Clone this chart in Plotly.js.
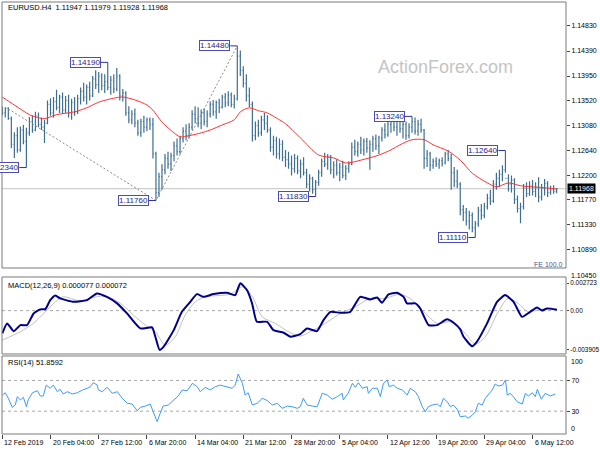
<!DOCTYPE html>
<html><head><meta charset="utf-8">
<script src="https://cdn.plot.ly/plotly-3.0.1.min.js"></script>
<style>html,body{margin:0;padding:0;background:#fff}#chart{width:600px;height:450px}</style>
</head><body><div id="chart"></div>
<script>
// ---- price bars (each bar = 8 hours, H4 pairs) ----
const opens = [1.1335,1.1330,1.1338,1.1320,1.1275,1.1290,1.1265,1.1300,1.1280,1.1295,
1.1315,1.1300,1.1325,1.1310,1.1305,1.1312,1.1345,1.1330,1.1350,1.1340,
1.1358,1.1335,1.1352,1.1330,1.1348,1.1332,1.1355,1.1368,1.1358,1.1375,
1.1360,1.1390,1.1380,1.1395,1.1378,1.1385,1.1375,1.1388,1.1372,1.1395,
1.1360,1.1365,1.1330,1.1318,1.1328,1.1312,1.1295,1.1315,1.1305,1.1318,
1.1310,1.1258,1.1190,1.1218,1.1230,1.1250,1.1240,1.1255,1.1272,1.1262,
1.1285,1.1298,1.1290,1.1305,1.1328,1.1320,1.1312,1.1330,1.1315,1.1328,
1.1345,1.1332,1.1348,1.1340,1.1358,1.1348,1.1362,1.1345,1.1355,1.1430,
1.1405,1.1382,1.1360,1.1345,1.1290,1.1308,1.1295,1.1318,1.1312,1.1300,
1.1270,1.1282,1.1258,1.1275,1.1252,1.1248,1.1240,1.1232,1.1250,1.1228,
1.1240,1.1225,1.1205,1.1215,1.1195,1.1208,1.1225,1.1245,1.1240,1.1252,
1.1230,1.1238,1.1225,1.1235,1.1220,1.1232,1.1240,1.1270,1.1262,1.1275,
1.1265,1.1280,1.1268,1.1275,1.1285,1.1272,1.1286,1.1300,1.1292,1.1310,
1.1318,1.1305,1.1315,1.1302,1.1310,1.1290,1.1305,1.1315,1.1298,1.1310,
1.1300,1.1250,1.1258,1.1238,1.1245,1.1240,1.1246,1.1242,1.1258,1.1250,
1.1225,1.1210,1.1205,1.1160,1.1155,1.1140,1.1150,1.1128,1.1135,1.1158,
1.1150,1.1165,1.1180,1.1175,1.1205,1.1215,1.1222,1.1230,1.1215,1.1205,
1.1212,1.1178,1.1162,1.1165,1.1198,1.1188,1.1202,1.1192,1.1200,1.1182,
1.1198,1.1206,1.1190,1.1197,1.1192];
const highs = [1.1341,1.1340,1.1340,1.1324,1.1296,1.1305,1.1306,1.1309,1.1304,1.1323,
1.1326,1.1332,1.1331,1.1322,1.1318,1.1352,1.1356,1.1358,1.1371,1.1362,
1.1366,1.1360,1.1362,1.1355,1.1358,1.1362,1.1375,1.1383,1.1380,1.1385,
1.1395,1.1405,1.1402,1.1400,1.1398,1.1419,1.1395,1.1398,1.1409,1.1398,
1.1372,1.1368,1.1342,1.1335,1.1338,1.1318,1.1320,1.1325,1.1322,1.1322,
1.1321,1.1262,1.1225,1.1240,1.1258,1.1262,1.1260,1.1280,1.1285,1.1290,
1.1305,1.1310,1.1312,1.1335,1.1342,1.1340,1.1336,1.1338,1.1335,1.1350,
1.1353,1.1352,1.1355,1.1362,1.1365,1.1368,1.1366,1.1362,1.1448,1.1440,
1.1412,1.1398,1.1375,1.1350,1.1315,1.1318,1.1325,1.1330,1.1326,1.1305,
1.1290,1.1288,1.1285,1.1282,1.1265,1.1262,1.1255,1.1258,1.1255,1.1248,
1.1252,1.1232,1.1222,1.1218,1.1212,1.1230,1.1250,1.1260,1.1258,1.1256,
1.1245,1.1248,1.1242,1.1246,1.1238,1.1245,1.1278,1.1283,1.1280,1.1288,
1.1285,1.1286,1.1282,1.1290,1.1292,1.1290,1.1305,1.1312,1.1318,1.1322,
1.1323,1.1320,1.1322,1.1318,1.1315,1.1312,1.1324,1.1322,1.1318,1.1320,
1.1302,1.1265,1.1262,1.1250,1.1252,1.1250,1.1252,1.1262,1.1265,1.1258,
1.1235,1.1230,1.1208,1.1168,1.1163,1.1158,1.1155,1.1140,1.1165,1.1170,
1.1172,1.1188,1.1195,1.1212,1.1225,1.1230,1.1238,1.1264,1.1222,1.1220,
1.1215,1.1185,1.1172,1.1205,1.1208,1.1210,1.1212,1.1208,1.1217,1.1205,
1.1214,1.1210,1.1202,1.1203,1.1198];
const lows = [1.1326,1.1322,1.1318,1.1268,1.1251,1.1260,1.1262,1.1275,1.1234,1.1290,
1.1295,1.1298,1.1305,1.1300,1.1277,1.1310,1.1325,1.1322,1.1335,1.1330,
1.1328,1.1330,1.1322,1.1318,1.1325,1.1328,1.1345,1.1350,1.1345,1.1352,
1.1358,1.1372,1.1365,1.1370,1.1365,1.1370,1.1362,1.1365,1.1368,1.1352,
1.1350,1.1325,1.1312,1.1310,1.1305,1.1290,1.1288,1.1295,1.1298,1.1300,
1.1250,1.1176,1.1182,1.1195,1.1222,1.1232,1.1228,1.1245,1.1255,1.1258,
1.1278,1.1282,1.1285,1.1300,1.1312,1.1305,1.1302,1.1308,1.1305,1.1322,
1.1325,1.1320,1.1330,1.1338,1.1340,1.1342,1.1340,1.1338,1.1352,1.1395,
1.1375,1.1350,1.1340,1.1280,1.1282,1.1288,1.1290,1.1300,1.1295,1.1262,
1.1255,1.1250,1.1248,1.1245,1.1235,1.1232,1.1220,1.1225,1.1222,1.1215,
1.1220,1.1198,1.1192,1.1188,1.1183,1.1202,1.1218,1.1235,1.1230,1.1222,
1.1215,1.1220,1.1210,1.1215,1.1212,1.1225,1.1238,1.1255,1.1253,1.1258,
1.1255,1.1260,1.1230,1.1262,1.1265,1.1258,1.1280,1.1285,1.1288,1.1295,
1.1298,1.1290,1.1295,1.1285,1.1283,1.1285,1.1295,1.1292,1.1290,1.1295,
1.1232,1.1235,1.1228,1.1232,1.1235,1.1232,1.1236,1.1240,1.1245,1.1195,
1.1200,1.1198,1.1150,1.1140,1.1132,1.1125,1.1120,1.1111,1.1130,1.1142,
1.1145,1.1160,1.1168,1.1172,1.1195,1.1200,1.1210,1.1225,1.1192,1.1190,
1.1170,1.1155,1.1136,1.1160,1.1182,1.1184,1.1185,1.1182,1.1173,1.1176,
1.1185,1.1182,1.1186,1.1188,1.1189];
const closes = [1.1330,1.1338,1.1320,1.1275,1.1290,1.1265,1.1300,1.1280,1.1295,1.1315,
1.1300,1.1325,1.1310,1.1305,1.1312,1.1345,1.1330,1.1350,1.1340,1.1358,
1.1335,1.1352,1.1330,1.1348,1.1332,1.1355,1.1368,1.1358,1.1375,1.1360,
1.1390,1.1380,1.1395,1.1378,1.1385,1.1375,1.1388,1.1372,1.1395,1.1360,
1.1365,1.1330,1.1318,1.1328,1.1312,1.1295,1.1315,1.1305,1.1318,1.1310,
1.1258,1.1190,1.1218,1.1230,1.1250,1.1240,1.1255,1.1272,1.1262,1.1285,
1.1298,1.1290,1.1305,1.1328,1.1320,1.1312,1.1330,1.1315,1.1328,1.1345,
1.1332,1.1348,1.1340,1.1358,1.1348,1.1362,1.1345,1.1355,1.1430,1.1405,
1.1382,1.1360,1.1345,1.1290,1.1308,1.1295,1.1318,1.1312,1.1300,1.1270,
1.1282,1.1258,1.1275,1.1252,1.1248,1.1240,1.1232,1.1250,1.1228,1.1240,
1.1225,1.1205,1.1215,1.1195,1.1208,1.1225,1.1245,1.1240,1.1252,1.1230,
1.1238,1.1225,1.1235,1.1220,1.1232,1.1240,1.1270,1.1262,1.1275,1.1265,
1.1280,1.1268,1.1275,1.1285,1.1272,1.1286,1.1300,1.1292,1.1310,1.1318,
1.1305,1.1315,1.1302,1.1310,1.1290,1.1305,1.1315,1.1298,1.1310,1.1300,
1.1250,1.1258,1.1238,1.1245,1.1240,1.1246,1.1242,1.1258,1.1250,1.1225,
1.1210,1.1205,1.1160,1.1155,1.1140,1.1150,1.1128,1.1135,1.1158,1.1150,
1.1165,1.1180,1.1175,1.1205,1.1215,1.1222,1.1230,1.1215,1.1205,1.1212,
1.1178,1.1162,1.1165,1.1198,1.1188,1.1202,1.1192,1.1200,1.1182,1.1198,
1.1206,1.1190,1.1197,1.1192,1.11968];

// ---- moving average (red) ----
const maX = [0,4,9,11,14,18,24,28,32,37,40,44,48,50,53,57,59,62,66,69,73,77,79,82,85,88,91,94,99,105,110,114,119,125,129,132,136,140,143,148,152,156,161,164,168,172,176,181,184];
const maY = [1.1358,1.1344,1.1327,1.1323,1.1320,1.1327,1.1332,1.1339,1.1349,1.1356,1.1358,1.1353,1.1344,1.1335,1.1314,1.1295,1.1288,1.1290,1.1295,1.1300,1.1309,1.1318,1.1332,1.1339,1.1334,1.1330,1.1321,1.1311,1.1286,1.1256,1.1251,1.1242,1.1247,1.1256,1.1265,1.1274,1.1283,1.1283,1.1274,1.1263,1.1247,1.1224,1.1207,1.1200,1.1207,1.1202,1.1200,1.1198,1.1196];

// ---- MACD ----
const macdX = [0,1.6,3.8,6,8.2,10.4,12.6,14.3,15.9,17.6,19.2,23.7,28.1,31.4,34.7,38.1,41.4,45.8,49.7,50.8,52.2,53.5,56.9,59.6,62.4,64.6,66.8,70.1,74.6,77.3,79,81.2,82.9,84.5,87.9,90,93.4,95.6,98.9,101.1,104.4,106.6,108.9,112.2,115.5,118.8,122.1,124.4,126,128.2,131,133.2,134.3,137.1,138.7,141.5,144.3,147.6,149.8,152,153.1,155.9,157.5,160.9,164.2,166.9,169.7,172.5,175.2,177.5,179.1,180.8,184.1];
const macdY = [-0.00226,-0.00127,-0.00204,-0.00144,-0.00144,-0.00028,0.00012,0.00015,0.00104,0.00151,0.00121,0.00087,0.00104,0.00171,0.00137,0.00072,-0.00028,-0.00177,-0.00167,-0.0026,-0.0039,-0.0036,-0.00194,-0.00012,0.00087,0.00164,0.00137,0.00164,0.00177,0.00154,0.00272,0.00204,0.00072,-0.00111,-0.00111,-0.00194,-0.0022,-0.0026,-0.00234,-0.00177,-0.00204,-0.00094,-0.00012,-0.00022,-0.00012,0.00137,0.00111,0.00131,0.00078,0.00161,0.00177,0.00137,0.00072,0.00072,0.00022,-0.00144,-0.00144,-0.00087,-0.00121,-0.00187,-0.0026,-0.00353,-0.0031,-0.00127,0.00087,0.00154,0.00087,-0.00062,-0.00012,0.00032,0,0.00022,0.000077];
const sigX = [0,6,10.3,14.3,17.6,20.2,25.9,31.2,34.5,39.2,43.5,47.5,50.8,54.1,57.4,60.7,64.1,67.4,75.7,79.7,83,86.3,90.6,95.6,98.9,102.2,107.2,112.2,117.2,122.1,127.1,132.1,136.1,140.4,144.4,148.7,153.7,157,160.3,164.3,167.9,171.2,174.6,178.6,184.2];
const sigY = [-0.00293,-0.0021,-0.00127,-0.00012,0.00087,0.00137,0.00097,0.00137,0.00144,0.00072,-0.00045,-0.00144,-0.0021,-0.00343,-0.0026,-0.00045,0.00087,0.00137,0.00164,0.00237,0.00137,-0.00062,-0.00127,-0.0022,-0.00253,-0.0021,-0.00127,-0.00028,0.00038,0.00121,0.00121,0.00164,0.00104,-0.00028,-0.00127,-0.00111,-0.00226,-0.00333,-0.0026,-0.00028,0.00121,0.00072,-0.00012,0.00012,0.000072];
const macdTicks = [0.002723, 0, -0.003905];
const macdTickText = ['0.002723', '0.00', '-0.003905'];

// ---- RSI(14) ----
const rsiX = [0,1,2,3.3,4.3,5,6,7,8,8.6,10,11.6,12.6,13.6,14.6,15.9,16.9,18.3,19.2,20.2,21.6,23.2,24.9,26.6,28.2,29.2,30.2,31.5,31.9,33.2,34.8,36.5,38.2,39.8,41.5,43.1,44.8,45.8,47.5,49.1,50.1,51.4,52.4,53.4,55.1,56.8,58.4,59.7,61.4,63.1,64.7,65.7,67.4,69,70.7,72.4,74,76.3,77.3,78.3,79.7,80.6,81.6,83,84.6,86.3,88,89.6,91.3,92.9,94.6,96.2,97.9,98.9,99.9,101.2,102.9,104.5,106.2,107.9,109.5,111.2,112.8,113.2,114.8,116.2,117.2,118.2,119.5,121.1,121.5,122.8,124.5,125.5,126.5,127.8,128.4,129.8,131.1,132.8,134.4,135.4,137.1,138.1,139.4,140.4,141.4,142.7,144.4,145.4,146.4,147.7,148.7,149.7,151,152,153.7,154.6,156,157,158,159.3,160.3,161.3,162.6,163.6,164.6,166,167,167.6,168.6,169.6,170.9,172.6,173.6,174.6,175.9,176.9,177.6,178.9,180.2,181.9,183.6];
const rsiY = [51,54,46.8,35,38,48.9,44.6,48,35.8,44.6,
54,56.7,49.8,49.8,64,59.8,64,55.4,58.5,52.4,
55.4,52.4,54,57.6,59.8,61.9,67.1,64,57.6,55.4,
61.1,53.3,55.4,46.8,40.3,39.3,30.6,35,36.7,39.3,
29.3,16.3,27.2,36.7,38,44.6,49.8,57.6,56.7,66.3,
61.9,55.4,61.1,57.6,61.9,64,61.9,59.8,64,78.4,
66.3,51,54,38,40.3,46.8,43.7,38,40.3,33.7,
36.7,35.8,33.7,35.8,46.8,38,36.7,35.8,53.3,51,
45.5,48.9,53.3,44.6,53.3,66.3,61.1,67.1,59.8,61.9,
53.3,59.8,59.8,48.9,66.3,70.6,61.9,64,59.8,57.6,
51,59.8,55.4,48.9,35.8,29.3,35.8,38,39.3,35.8,
46.8,42.3,35.8,38,32.4,22.8,23.7,20.7,25,29.3,
40.3,38,46.8,51,57.6,65.4,62.8,64,70.6,51,
53.3,48.9,42.3,39.3,53.3,49.8,54,48.9,58.5,45.5,
53.3,49.8,52.4];
const rsiLevels = [70, 30];

// ---- axis labels ----
const priceTicks = [1.1089,1.1133,1.1177,1.1220,1.1264,1.1308,1.1352,1.1395,1.1439,1.1483];
const priceTickText = ['1.10890','1.11330','1.11770','1.12200','1.12640','1.13080','1.13520','1.13950','1.14390','1.14830'];
const timeTickIdx = [0,16,32,48,64,80,96,112,128,144,160,176];
const timeTickText = ['12 Feb 2019','20 Feb 04:00','27 Feb 12:00','6 Mar 20:00','14 Mar 04:00','21 Mar 12:00','28 Mar 20:00','5 Apr 04:00','12 Apr 12:00','19 Apr 20:00','29 Apr 04:00','6 May 12:00'];

// ---- swing labels and FE lines ----
const pivotIdx = [8, 35, 51, 78, 104, 136, 157, 167];
const pivotSide = ['low','high','low','high','low','high','low','high'];
const feX = [2, 51, 78];
const feY = [1.1337, 1.1176, 1.1448];

const idx = closes.map((_, i) => i);
const lastClose = closes[closes.length - 1];
const FONT = 'Liberation Sans, Arial, sans-serif';

const traces = [
  {type:'ohlc', x: idx, open: opens, high: highs, low: lows, close: closes,
   xaxis:'x', yaxis:'y', tickwidth:0.3,
   increasing:{line:{color:'#3f6f8f', width:1.2}}, decreasing:{line:{color:'#3f6f8f', width:1.2}},
   hoverinfo:'skip', showlegend:false},
  {type:'scatter', mode:'lines', x: maX, y: maY, xaxis:'x', yaxis:'y',
   line:{color:'#ff3333', width:1, shape:'spline', smoothing:0.8}, hoverinfo:'skip', showlegend:false},
  {type:'scatter', mode:'lines', x: feX, y: feY, xaxis:'x', yaxis:'y',
   line:{color:'#8a8a8a', width:1, dash:'2px,2px'}, hoverinfo:'skip', showlegend:false},
  {type:'scatter', mode:'lines', x: sigX, y: sigY, xaxis:'x', yaxis:'y2',
   line:{color:'#c0c0c0', width:1, shape:'spline', smoothing:0.8}, hoverinfo:'skip', showlegend:false},
  {type:'scatter', mode:'lines', x: macdX, y: macdY, xaxis:'x', yaxis:'y2',
   line:{color:'#00008b', width:2, shape:'spline', smoothing:0.5}, hoverinfo:'skip', showlegend:false},
  {type:'scatter', mode:'lines', x: rsiX, y: rsiY, xaxis:'x', yaxis:'y3',
   line:{color:'#3d9bf5', width:1}, hoverinfo:'skip', showlegend:false}
];

const D_MAIN = [0.38426, 1];
const D_MACD = [0.18519, 0.36343];
const D_RSI = [0, 0.18056];

const shapes = [];
[D_MAIN, D_MACD, D_RSI].forEach(d => shapes.push({type:'rect', xref:'paper', yref:'paper', x0:0, x1:1, y0:d[0], y1:d[1], line:{color:'#7a7a7a', width:1}, layer:'above'}));
shapes.push({type:'line', xref:'paper', yref:'y', x0:0, x1:1, y0:lastClose, y1:lastClose, line:{color:'#c4c4c4', width:1}, layer:'below'});
shapes.push({type:'line', xref:'paper', yref:'y2', x0:0, x1:1, y0:0, y1:0, line:{color:'#a8a8a8', width:1, dash:'3px,3px'}, layer:'below'});
rsiLevels.forEach(v => shapes.push({type:'line', xref:'paper', yref:'y3', x0:0, x1:1, y0:v, y1:v, line:{color:'#a8a8a8', width:1, dash:'3px,3px'}, layer:'below'}));

const annotations = [];
pivotIdx.forEach((pi, k) => {
  const p = pivotSide[k] === 'high' ? highs[pi] : lows[pi];
  shapes.push({type:'line', xref:'x', yref:'y', xsizemode:'pixel', xanchor:pi, x0:-7, x1:0, y0:p, y1:p, line:{color:'#2e2e9e', width:1}});
  annotations.push({xref:'x', yref:'y', x:pi, y:p, xanchor:'right', yanchor:'middle', xshift:-7, showarrow:false,
    text:p.toFixed(5), font:{family:FONT, size:8, color:'#1c1c8c'}, bgcolor:'#ffffff', bordercolor:'#4c4cb4', borderwidth:1, borderpad:0});
});
annotations.push({xref:'paper', yref:'paper', x:0.0071, y:0.987, xanchor:'left', yanchor:'middle', showarrow:false,
  text:'EURUSD.H4  1.11947 1.11979 1.11928 1.11968', font:{family:FONT, size:7.5, color:'#000'}});
annotations.push({xref:'paper', yref:'paper', x:0.7855, y:0.8495, xanchor:'center', yanchor:'middle', showarrow:false,
  text:'ActionForex.com', font:{family:FONT, size:18, color:'#c4c4c4'}});
annotations.push({xref:'paper', yref:'paper', x:0.998, y:0.3924, xanchor:'right', yanchor:'middle', showarrow:false,
  text:'FE 100.0', font:{family:FONT, size:7, color:'#4a5a90'}});
annotations.push({xref:'paper', yref:'paper', x:0.0071, y:0.3449, xanchor:'left', yanchor:'middle', showarrow:false,
  text:'MACD(12,26,9) 0.000077 0.000072', font:{family:FONT, size:7.5, color:'#000'}});
annotations.push({xref:'paper', yref:'paper', x:0.0071, y:0.1644, xanchor:'left', yanchor:'middle', showarrow:false,
  text:'RSI(14) 51.8592', font:{family:FONT, size:7.5, color:'#000'}});
annotations.push({xref:'paper', yref:'y', x:1, y:lastClose, xanchor:'left', yanchor:'middle', xshift:1, showarrow:false,
  text:lastClose.toFixed(5), font:{family:FONT, size:7, color:'#fff'}, bgcolor:'#000', borderpad:1});
annotations.push({xref:'paper', yref:'paper', x:1, y:0.368, xanchor:'left', yanchor:'middle', xshift:3, showarrow:false,
  text:'1.10450', font:{family:FONT, size:7, color:'#000'}});
annotations.push({xref:'paper', yref:'paper', x:1, y:0.1667, xanchor:'left', yanchor:'middle', xshift:3, showarrow:false,
  text:'100', font:{family:FONT, size:7, color:'#000'}});
annotations.push({xref:'paper', yref:'paper', x:1, y:0.0116, xanchor:'left', yanchor:'middle', xshift:3, showarrow:false,
  text:'0', font:{family:FONT, size:7, color:'#000'}});
timeTickIdx.forEach((t, k) => annotations.push({xref:'x', yref:'paper', x:t, y:0, xanchor:'left', yanchor:'top', yshift:-3, showarrow:false,
  text:timeTickText[k], font:{family:FONT, size:7, color:'#000'}}));

const yCommon = {side:'right', anchor:'x', showgrid:false, zeroline:false, showline:false, ticks:'outside', ticklen:3, tickcolor:'#444',
  tickmode:'array', tickfont:{family:FONT, size:7, color:'#000'}, fixedrange:true};

const layout = {
  width:600, height:450, margin:{l:2, r:34, t:2, b:16},
  paper_bgcolor:'#fff', plot_bgcolor:'#fff', showlegend:false, hovermode:false,
  font:{family:FONT, size:7, color:'#000'},
  xaxis:{range:[-0.1, 187.1], anchor:'y3', showgrid:false, zeroline:false, showline:false, ticks:'outside', ticklen:4, tickcolor:'#444',
    tickmode:'array', tickvals:timeTickIdx, showticklabels:false, rangeslider:{visible:false}, fixedrange:true},
  yaxis: Object.assign({}, yCommon, {domain:D_MAIN, range:[1.10573, 1.15252], tickvals:priceTicks, ticktext:priceTickText}),
  yaxis2: Object.assign({}, yCommon, {domain:D_MACD, range:[-0.00431, 0.00334], tickvals:macdTicks, ticktext:macdTickText,
    ticklen:2, tickfont:{family:FONT, size:6.4, color:'#000'}}),
  yaxis3: Object.assign({}, yCommon, {domain:D_RSI, range:[0.26, 101.9], tickvals:rsiLevels, ticktext:rsiLevels.map(String)}),
  shapes: shapes, annotations: annotations
};

Plotly.newPlot('chart', traces, layout, {staticPlot:true, displayModeBar:false});
</script></body></html>
